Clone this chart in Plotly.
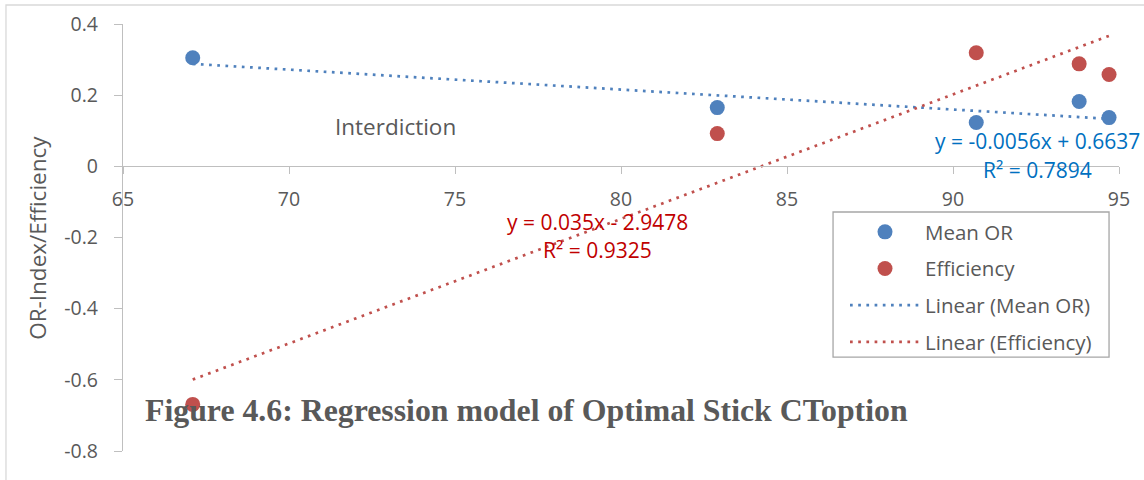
import plotly.graph_objects as go

# Observed values
x_vals = [67.1, 82.9, 90.7, 93.8, 94.7]
mean_or = [0.305, 0.165, 0.123, 0.182, 0.137]
efficiency = [-0.669, 0.092, 0.319, 0.288, 0.258]

# Linear trendline coefficients (slope, intercept) and R²
mean_or_fit = [-0.0056, 0.6637]
mean_or_r2 = 0.7894
eff_fit = [0.035, -2.9478]
eff_r2 = 0.9325

# Axis ticks
x_ticks = [65, 70, 75, 80, 85, 90, 95]
x_tick_labels = ["65", "70", "75", "80", "85", "90", "95"]
y_ticks = [-0.8, -0.6, -0.4, -0.2, 0, 0.2, 0.4]
y_tick_labels = ["-0.8", "-0.6", "-0.4", "-0.2", "0", "0.2", "0.4"]

BLUE = "#4F81BD"
RED = "#C0504D"
GREY_TXT = "#595959"
AXIS = "#BFBFBF"
FONT = "Open Sans"

X_RANGE = [65, 95]
Y_RANGE = [-0.8, 0.4]


def trend(coef, xs):
    xr = [min(xs), max(xs)]
    return xr, [coef[0] * v + coef[1] for v in xr]


fig = go.Figure()

tx, ty = trend(mean_or_fit, x_vals)
fig.add_trace(go.Scatter(
    x=tx, y=ty, mode="lines", name="Linear (Mean OR)",
    line=dict(color=BLUE, width=2.7, dash="2.7px,5.5px"),
    legendgroup="c", legendrank=3,
))
tx, ty = trend(eff_fit, x_vals)
fig.add_trace(go.Scatter(
    x=tx, y=ty, mode="lines", name="Linear (Efficiency)",
    line=dict(color=RED, width=2.7, dash="2.7px,5.5px"),
    legendgroup="d", legendrank=4,
))
fig.add_trace(go.Scatter(
    x=x_vals, y=mean_or, mode="markers", name="Mean OR",
    marker=dict(color=BLUE, size=15, line=dict(width=0)),
    legendgroup="a", legendrank=1,
))
fig.add_trace(go.Scatter(
    x=x_vals, y=efficiency, mode="markers", name="Efficiency",
    marker=dict(color=RED, size=15, line=dict(width=0)),
    legendgroup="b", legendrank=2,
))

tick_font = dict(family=FONT, size=19.5, color=GREY_TXT)

fig.update_layout(
    width=1144, height=480,
    margin=dict(l=123, r=25, t=24, b=29, autoexpand=False),
    paper_bgcolor="white", plot_bgcolor="white",
    font=dict(family=FONT, size=18, color=GREY_TXT),
    xaxis=dict(
        range=X_RANGE, tickvals=x_ticks, ticktext=x_tick_labels,
        showgrid=False, zeroline=False, showline=True,
        linecolor=AXIS, linewidth=1.3,
        ticks="outside", ticklen=7, tickcolor=AXIS, tickwidth=1.3,
        tickfont=tick_font, ticklabelstandoff=8,
        anchor="free", automargin=False,
        position=(0 - Y_RANGE[0]) / (Y_RANGE[1] - Y_RANGE[0]),
    ),
    yaxis=dict(
        range=Y_RANGE, tickvals=y_ticks, ticktext=y_tick_labels,
        showgrid=False, zeroline=False, showline=True,
        linecolor=AXIS, linewidth=1.3,
        ticks="outside", ticklen=8, tickcolor=AXIS, tickwidth=1.3,
        tickfont=tick_font, ticklabelstandoff=12, automargin=False,
    ),
    legend=dict(
        x=0.7249, y=0.5597, xanchor="left", yanchor="top",
        bgcolor="rgba(0,0,0,0)", borderwidth=0,
        font=dict(family=FONT, size=20.5, color=GREY_TXT),
        traceorder="grouped", tracegroupgap=7, itemwidth=70,
    ),
    showlegend=True,
)

# Legend frame
fig.add_shape(
    type="rect", xref="paper", yref="paper",
    x0=0.7129, x1=0.9900, y0=0.2200, y1=0.5597,
    line=dict(color="#A6A6A6", width=1.3), fillcolor="white", layer="below",
)

# Axis title
fig.add_annotation(
    text="OR-Index/Efficiency", textangle=-90,
    xref="paper", yref="paper", x=-0.086, y=0.5,
    xanchor="center", yanchor="middle", showarrow=False,
    font=dict(family=FONT, size=22.5, color=GREY_TXT),
)

# Region label
fig.add_annotation(
    text="Interdiction", x=73.2, y=0.112, showarrow=False,
    font=dict(family=FONT, size=22.5, color=GREY_TXT),
)

# Trendline equations
EQ_SIZE = 21
fig.add_annotation(
    text=f"y = {mean_or_fit[0]}x + {mean_or_fit[1]}", x=92.55, y=0.071,
    showarrow=False, font=dict(family=FONT, size=EQ_SIZE, color="#0070C0"),
)
fig.add_annotation(
    text=f"R² = {mean_or_r2}", x=92.55, y=-0.010,
    showarrow=False, font=dict(family=FONT, size=EQ_SIZE, color="#0070C0"),
)
fig.add_annotation(
    text=f"y = {eff_fit[0]}x - {abs(eff_fit[1])}", x=79.3, y=-0.156,
    showarrow=False, font=dict(family=FONT, size=EQ_SIZE, color="#C00000"),
)
fig.add_annotation(
    text=f"R² = {eff_r2}", x=79.3, y=-0.234,
    showarrow=False, font=dict(family=FONT, size=EQ_SIZE, color="#C00000"),
)

# Figure caption
fig.add_annotation(
    text="<b>Figure 4.6: Regression model of Optimal Stick CToption</b>",
    xref="paper", yref="paper", x=0.02, y=0.094,
    xanchor="left", yanchor="middle", showarrow=False,
    font=dict(family="Liberation Serif", size=31.8, color=GREY_TXT),
)

# Outer chart frame
fig.add_shape(
    type="rect", xref="paper", yref="paper",
    x0=-0.1175, x1=1.2, y0=-0.3, y1=1.0445,
    line=dict(color="#D9D9D9", width=1.3), layer="below",
)

fig.write_html("out.html")
